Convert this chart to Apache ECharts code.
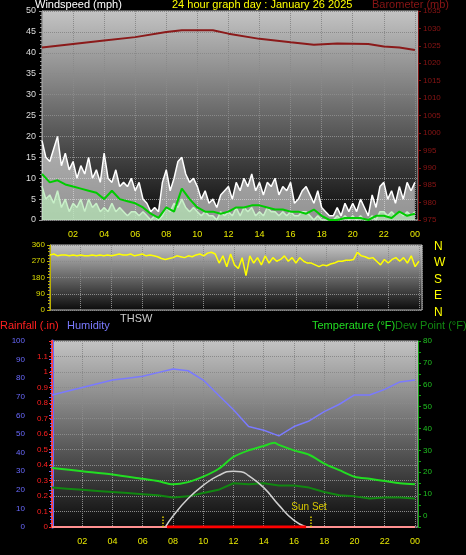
<!DOCTYPE html>
<html><head><meta charset="utf-8">
<script src="https://cdn.jsdelivr.net/npm/echarts@6/dist/echarts.min.js"></script>
<style>html,body{margin:0;padding:0;background:#000;}#c{width:466px;height:555px;}</style>
</head><body><div id="c"></div>
<script>
// time step 0.25 h
const gust = [19,15,14,17,20,13,16,12,14,10,13,11,15,10,12,9,16,10,9,12,8,9,8,10,7,9,5,4,2,3,2,9,12,7,10,14,15,11,9,10,8,5,7,4,5,3,6,7,8,5,9,7,10,8,11,7,9,6,9,8,10,6,8,7,9,4,5,7,8,6,4,7,3,2,1,1,3,1,4,2,4,2,5,3,1,6,3,8,9,5,7,4,8,5,9,7,9];
const speed = [8,5,6,4,7,3,5,2,4,3,5,2,5,3,4,2,3,2,4,2,3,2,1,2,2,1,2,1,0,1,0,1,3,2,4,3,5,3,2,3,2,1,2,1,1,0,2,1,2,1,3,1,3,2,3,1,2,1,3,2,2,1,2,1,2,1,1,2,2,1,0,1,0,0,0,0,1,0,1,0,1,0,1,0,0,1,0,2,2,1,2,1,2,1,2,1,2];
const windDir = [305,310,300,305,305,300,305,300,305,300,300,305,300,305,300,305,300,305,310,305,305,310,300,305,310,300,305,300,295,285,280,285,290,300,295,290,300,295,305,310,300,315,320,310,260,300,240,310,250,230,290,190,300,260,290,250,300,260,290,270,280,300,270,290,260,290,270,260,260,250,240,250,245,255,260,270,270,275,275,280,320,300,295,285,290,270,250,280,260,280,290,270,290,260,300,240,270];
// time step 0.5 h
const avgWind = [11,9,9.5,8.5,8,7.5,7,6.5,5,7,5,4.5,4,3,1.5,0.5,3,2,7.5,5,3,2,2,1.5,2,3,3,3.5,3.5,3,2.5,2.5,2,2,1.5,2.5,1,0,0,0.5,0.5,0.5,0,1,1,0.5,2,1,1.5];
// hourly
const baroHours = [0,2,4,6,8,9,11,12,14,16,17.5,19,21,22,23,24];
const baro = [1024.5,1025.5,1026.5,1027.5,1029,1029.5,1029.5,1028.5,1027,1026,1025.3,1025.7,1025.5,1024.8,1024.5,1023.8];
const humidity = [71,73,75,77,79,80,81,83,85,84,79,71,63,54,52,49,54,57,62,66,71,71,74,78,79];
const tempHours = [0,2,4,6,7,8,9,10,11,12,13,14,14.7,15,16,17,18,19,20,21,22,23,24];
const temp = [22,20.5,19,17,16,14.5,15.5,18,21.5,27,30,32,33.5,32.5,30,28,24,21,18,17,16,15,14.5];
const dew = [13,12.5,12,11.5,11,10.5,10,9.5,8.5,9,10.5,12,15,14.5,15,14,14,13,11,9.5,9,8,8.5,8.5,8];
const thswHours = [7.5,8,9,10,11,12,12.5,13,14,15,16,16.8];
const thsw = [-5,0,8,14,18.5,20.5,20.3,18.5,13,5,-2,-5];
const xLabels = ['02','04','06','08','10','12','14','16','18','20','22','00'];

const q = (arr, step) => arr.map((v, i) => [i * step, v]);
const zip = (h, v) => h.map((x, i) => [x, v[i]]);
const bg = {type:'linear',x:0,y:0,x2:0,y2:1,colorStops:[{offset:0,color:'#c4c4c4'},{offset:1,color:'#0a0a0a'}]};
const grids = [
  {left:42,right:48,top:11,height:209,show:true,backgroundColor:bg,borderColor:'#bbb',borderWidth:1},
  {left:50,right:44,top:245,height:65,show:true,backgroundColor:bg,borderColor:'#bbb',borderWidth:1},
  {left:52,right:48,top:341,height:186,show:true,backgroundColor:bg,borderColor:'#bbb',borderWidth:1}
];
const split = {show:true,lineStyle:{color:'#8a8a8a',type:'dotted',width:1}};
const font = 'Liberation Sans';
const xa = (g, labels) => ({type:'value',gridIndex:g,min:0,max:24.2,interval:2,
  axisLine:{show:false},axisTick:{show:false},
  axisLabel:{show:labels,color:'#e8e800',fontSize:9,fontFamily:font,margin:10,formatter:v=>{const i=Math.round(v/2)-1;return (v>0&&v<=24)?xLabels[i]:'';}},
  splitLine:split});
const option = {
  backgroundColor:'#000', animation:false,
  grid:grids,
  xAxis:[xa(0,true),xa(1,false),xa(2,true)],
  yAxis:[
    {type:'value',gridIndex:0,position:'left',min:0,max:50,interval:5,axisLine:{show:true,lineStyle:{color:'#999'}},axisTick:{show:true,length:3,lineStyle:{color:'#999'}},minorTick:{show:true,splitNumber:5,length:2,lineStyle:{color:'#999'}},axisLabel:{color:'#ddd',fontSize:9,fontFamily:font,margin:6},splitLine:split},
    {type:'value',gridIndex:0,position:'right',min:975,max:1035,interval:5,axisLine:{show:true,lineStyle:{color:'#7a1010'}},axisTick:{show:true,length:3,lineStyle:{color:'#7a1010'}},axisLabel:{color:'#8a1515',fontSize:8,fontFamily:font,margin:5,formatter:v=>String(v)},splitLine:{show:false}},
    {type:'value',gridIndex:1,position:'left',min:0,max:360,interval:90,axisLine:{show:true,lineStyle:{color:'#bbb000'}},axisTick:{show:true,length:3,lineStyle:{color:'#bbb000'}},minorTick:{show:true,splitNumber:5,length:2,lineStyle:{color:'#bbb000'}},axisLabel:{color:'#dddd00',fontSize:8,fontFamily:font,margin:5},splitLine:split},
    {type:'value',gridIndex:2,position:'left',min:0,max:100,interval:10,offset:22,axisLine:{show:true,lineStyle:{color:'#6666ff',width:3}},axisTick:{show:true,length:3,lineStyle:{color:'#6666ff'}},minorTick:{show:true,splitNumber:5,length:2,lineStyle:{color:'#6666ff'}},axisLabel:{color:'#6a6aff',fontSize:8,fontFamily:font,margin:5},splitLine:{show:false}},
    {type:'value',gridIndex:2,position:'left',offset:0,min:0,max:1.2,interval:0.1,axisLine:{show:true,lineStyle:{color:'#ff4040',width:2}},axisTick:{show:true,length:3,lineStyle:{color:'#ff3030'}},axisLabel:{color:'#ff2020',fontSize:8,fontFamily:font,margin:4,formatter:v=>v>=1.15?'':(Math.round(v*10)/10).toString()},splitLine:split},
    {type:'value',gridIndex:2,position:'right',min:-5,max:80,interval:5,axisLine:{show:true,lineStyle:{color:'#10a010'}},axisTick:{show:true,length:3,lineStyle:{color:'#10a010'}},axisLabel:{color:'#20c020',fontSize:8,fontFamily:font,margin:5,formatter:v=>(v%10===0)?String(v):''},splitLine:{show:false}}
  ],
  graphic:[
    {type:'text',left:35,top:-1,style:{text:'Windspeed (mph)',fill:'#fff',font:'11px Liberation Sans'}},
    {type:'text',left:172,top:-1,style:{text:'24 hour graph day : January 26 2025',fill:'#ffff00',font:'11px Liberation Sans'}},
    {type:'text',left:372,top:-1,style:{text:'Barometer (mb)',fill:'#8a1515',font:'11px Liberation Sans'}},
    {type:'text',left:434,top:238,style:{text:'N\nW\nS\nE\nN',fill:'#ffff00',font:'12px Liberation Sans',lineHeight:16.5}},
    {type:'text',left:120,top:313,style:{text:'THSW',fill:'#ccc',font:'11px Liberation Sans'}},
    {type:'text',left:0,top:320,style:{text:'Rainfall (.in)',fill:'#ff2020',font:'11px Liberation Sans'}},
    {type:'text',left:67,top:320,style:{text:'Humidity',fill:'#7a7aff',font:'11px Liberation Sans'}},
    {type:'text',left:312,top:320,style:{text:'Temperature (°F)',fill:'#22dd22',font:'11px Liberation Sans'}},
    {type:'text',left:395,top:320,style:{text:'Dew Point (°F)',fill:'#118811',font:'11px Liberation Sans'}}
  ],
  series:[
    {type:'line',xAxisIndex:0,yAxisIndex:0,data:q(gust,0.25),symbol:'none',lineStyle:{color:'#fff',width:1.5},areaStyle:{color:'rgba(240,240,240,0.85)'}},
    {type:'line',xAxisIndex:0,yAxisIndex:0,data:q(speed,0.25),symbol:'none',lineStyle:{color:'#c8f0c8',width:1.5},areaStyle:{color:'#b8e8b8'}},
    {type:'line',xAxisIndex:0,yAxisIndex:0,data:q(avgWind,0.5),symbol:'none',lineStyle:{color:'#00cc00',width:2}},
    {type:'line',xAxisIndex:0,yAxisIndex:1,data:zip(baroHours,baro),symbol:'none',lineStyle:{color:'#8b1a1a',width:2}},
    {type:'line',xAxisIndex:1,yAxisIndex:2,data:q(windDir,0.25),symbol:'none',lineStyle:{color:'#ffff00',width:1.5}},
    {type:'line',xAxisIndex:2,yAxisIndex:3,data:q(humidity,1),symbol:'none',lineStyle:{color:'#7a7aff',width:1.5}},
    {type:'line',xAxisIndex:2,yAxisIndex:5,data:zip(tempHours,temp),symbol:'none',smooth:0.3,lineStyle:{color:'#22dd22',width:2}},
    {type:'line',xAxisIndex:2,yAxisIndex:5,data:q(dew,1),symbol:'none',lineStyle:{color:'#118811',width:2}},
    {type:'line',xAxisIndex:2,yAxisIndex:5,data:zip(thswHours,thsw),symbol:'none',smooth:true,lineStyle:{color:'#d0d0d0',width:1.5},
      markLine:{symbol:'none',silent:true,label:{show:false},lineStyle:{color:'#e0d000',type:'dotted',width:1.5},data:[[{coord:[7.3,-5]},{coord:[7.3,0]}],[{coord:[17.1,-5]},{coord:[17.1,0]}]]},
      markPoint:{symbol:'circle',symbolSize:1,itemStyle:{color:'rgba(0,0,0,0)'},label:{show:true,position:'inside',formatter:'Sun Set',color:'#d8c800',fontSize:10,fontFamily:font},data:[{coord:[17.0,4]}]}},
    {type:'line',xAxisIndex:2,yAxisIndex:4,data:[[0,0],[24,0]],symbol:'none',lineStyle:{color:'#ff9090',width:2}},
    {type:'line',xAxisIndex:2,yAxisIndex:4,data:[[7.6,0],[16.8,0]],symbol:'none',lineStyle:{color:'#ff0000',width:3}}
  ]
};
echarts.init(document.getElementById('c')).setOption(option);
</script></body></html>
